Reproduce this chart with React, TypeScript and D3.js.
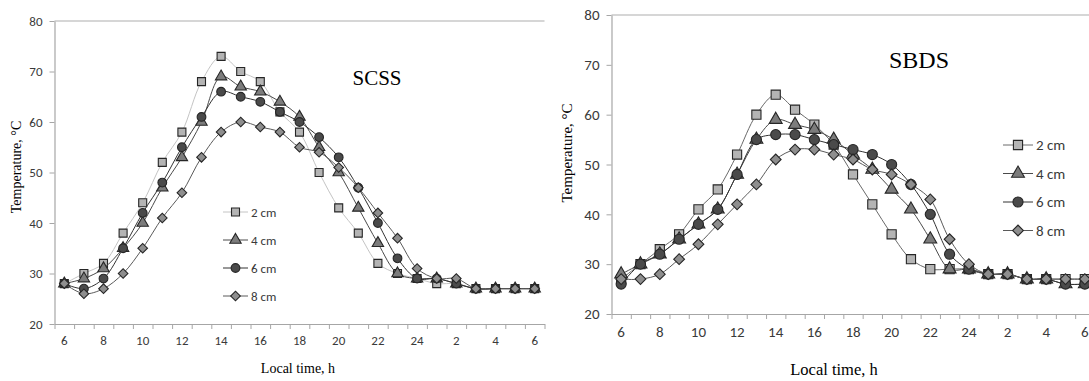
import { useEffect, useRef } from "react";
import * as d3 from "d3";

const W = 1089;
const H = 381;

// local time categories, 6 h to 6 h next day
const hours = ["6", "7", "8", "9", "10", "11", "12", "13", "14", "15", "16", "17", "18", "19", "20", "21", "22", "23", "24", "1", "2", "3", "4", "5", "6"];
const depths = ["2 cm", "4 cm", "6 cm", "8 cm"];
const yTicks = [20, 30, 40, 50, 60, 70, 80];

// SCSS, temperature in deg C
const scss2 = [28, 30, 32, 38, 44, 52, 58, 68, 73, 70, 68, 62, 58, 50, 43, 38, 32, 30, 29, 28, 28, 27, 27, 27, 27];
const scss4 = [28, 29, 31, 35, 40, 47, 53, 60, 69, 67, 66, 64, 61, 55, 50, 43, 36, 30, 29, 29, 28, 27, 27, 27, 27];
const scss6 = [28, 27, 29, 35, 42, 48, 55, 61, 66, 65, 64, 62, 60, 57, 53, 47, 40, 33, 29, 29, 28, 27, 27, 27, 27];
const scss8 = [28, 26, 27, 30, 35, 41, 46, 53, 58, 60, 59, 58, 55, 54, 51, 47, 42, 37, 31, 29, 29, 27, 27, 27, 27];

// SBDS, temperature in deg C
const sbds2 = [27, 30, 33, 36, 41, 45, 52, 60, 64, 61, 58, 54, 48, 42, 36, 31, 29, 29, 29, 28, 28, 27, 27, 27, 27];
const sbds4 = [28, 30, 32, 35, 38, 41, 48, 55, 59, 58, 57, 55, 52, 49, 45, 41, 35, 29, 29, 28, 28, 27, 27, 26, 26];
const sbds6 = [26, 30, 32, 35, 38, 41, 48, 55, 56, 56, 55, 54, 53, 52, 50, 46, 40, 32, 29, 28, 28, 27, 27, 26, 26];
const sbds8 = [27, 27, 28, 31, 34, 38, 42, 46, 51, 53, 53, 52, 51, 49, 48, 46, 43, 35, 30, 28, 28, 27, 27, 27, 27];

const sans = "Carlito, Lato, 'Open Sans', sans-serif";
const serif = "'Liberation Serif', 'Times New Roman', serif";

const shapes = [d3.symbolSquare, d3.symbolTriangle, d3.symbolCircle, d3.symbolSquare];
const rotations = [0, 0, 0, 45];
const fills = ["#b4b4b4", "#7c7c7c", "#4a4a4a", "#8e8e8e"];

type Panel = {
  title: string;
  left: number;
  right: number;
  top: number;
  bottom: number;
  tickFont: number;
  titleFont: number;
  axisFont: number;
  yTitleFont: number;
  titleX: number;
  titleY: number;
  yTitleX: number;
  yTitleY: number;
  xTitleX: number;
  xTitleY: number;
  legendX: number;
  legendY: number;
  legendGap: number;
  legendLine: number;
  sizes: number[];
  lineColors: string[];
};

const leftPanel: Panel = {
  title: "SCSS",
  left: 54.5,
  right: 544.5,
  top: 21,
  bottom: 324,
  tickFont: 13,
  titleFont: 21,
  axisFont: 14,
  yTitleFont: 14,
  titleX: 377,
  titleY: 85,
  yTitleX: 18,
  yTitleY: 167,
  xTitleX: 298,
  xTitleY: 373,
  legendX: 223,
  legendY: 212,
  legendGap: 28,
  legendLine: 25,
  sizes: [64, 56, 60, 46],
  lineColors: ["#c4c4c4", "#4a4a4a", "#333333", "#5a5a5a"],
};

const rightPanel: Panel = {
  title: "SBDS",
  left: 611.5,
  right: 1094.5,
  top: 15,
  bottom: 314,
  tickFont: 15,
  titleFont: 24,
  axisFont: 16.5,
  yTitleFont: 15,
  titleX: 919,
  titleY: 68,
  yTitleX: 569,
  yTitleY: 153,
  xTitleX: 834,
  xTitleY: 375,
  legendX: 1003,
  legendY: 145,
  legendGap: 28.5,
  legendLine: 30,
  sizes: [84, 72, 80, 58],
  lineColors: ["#6a6a6a", "#4a4a4a", "#333333", "#5a5a5a"],
};

function drawPanel(
  svg: d3.Selection<SVGSVGElement, unknown, null, undefined>,
  p: Panel,
  series: number[][]
) {
  const g = svg.append("g");
  const idx = hours.map((_, i) => i);
  const x = d3.scaleBand<number>().domain(idx).range([p.left, p.right]);
  const edge = d3.scaleLinear().domain([0, hours.length]).range([p.left, p.right]);
  const y = d3.scaleLinear().domain([20, 80]).range([p.bottom, p.top]);
  const cx = (i: number) => (x(i) ?? 0) + x.bandwidth() / 2;

  // top gridline
  g.append("line")
    .attr("x1", p.left)
    .attr("x2", p.right)
    .attr("y1", y(80))
    .attr("y2", y(80))
    .attr("stroke", "#c8c8c8")
    .attr("stroke-width", 1.6);

  // y-axis
  const yAxis = g
    .append("g")
    .attr("transform", `translate(${p.left},0)`)
    .call(d3.axisLeft(y).tickValues(yTicks).tickSize(5).tickSizeOuter(0).tickPadding(7));
  yAxis.select(".domain").attr("stroke", "#a6a6a6").attr("stroke-width", 1.2);
  yAxis.selectAll(".tick line").attr("stroke", "#a6a6a6");
  yAxis
    .selectAll(".tick text")
    .attr("font-family", sans)
    .attr("font-size", p.tickFont)
    .attr("fill", "#3a3a3a");

  // x-axis: tick marks between categories
  const xAxis = g
    .append("g")
    .attr("transform", `translate(0,${p.bottom})`)
    .call(
      d3
        .axisBottom(edge)
        .tickValues(d3.range(hours.length + 1))
        .tickSize(5)
        .tickSizeOuter(0)
        .tickFormat(() => "")
    );
  xAxis.select(".domain").attr("stroke", "#a6a6a6").attr("stroke-width", 1.2);
  xAxis.selectAll(".tick line").attr("stroke", "#a6a6a6");

  g.append("g")
    .selectAll("text")
    .data(idx.filter((i) => i % 2 === 0))
    .join("text")
    .attr("x", (i) => cx(i))
    .attr("y", p.bottom + 8 + p.tickFont)
    .attr("text-anchor", "middle")
    .attr("font-family", sans)
    .attr("font-size", p.tickFont)
    .attr("fill", "#3a3a3a")
    .text((i) => hours[i]);

  // titles
  g.append("text")
    .attr("x", p.titleX)
    .attr("y", p.titleY)
    .attr("text-anchor", "middle")
    .attr("font-family", serif)
    .attr("font-size", p.titleFont)
    .text(p.title);
  g.append("text")
    .attr("transform", `translate(${p.yTitleX},${p.yTitleY}) rotate(-90)`)
    .attr("text-anchor", "middle")
    .attr("dominant-baseline", "middle")
    .attr("font-family", serif)
    .attr("font-size", p.yTitleFont)
    .text("Temperature, °C");
  g.append("text")
    .attr("x", p.xTitleX)
    .attr("y", p.xTitleY)
    .attr("text-anchor", "middle")
    .attr("font-family", serif)
    .attr("font-size", p.axisFont)
    .text("Local time, h");

  const line = d3
    .line<number>()
    .x((_, i) => cx(i))
    .y((d) => y(d))
    .curve(d3.curveCatmullRom.alpha(0.5));

  series.forEach((values, s) => {
    const sym = d3.symbol().type(shapes[s]).size(p.sizes[s]);
    g.append("path")
      .datum(values)
      .attr("fill", "none")
      .attr("stroke", p.lineColors[s])
      .attr("stroke-width", 1)
      .attr("d", line);
    g.append("g")
      .selectAll("path")
      .data(values)
      .join("path")
      .attr("d", sym() ?? "")
      .attr("transform", (d, i) => `translate(${cx(i)},${y(d)}) rotate(${rotations[s]})`)
      .attr("fill", fills[s])
      .attr("stroke", "#262626")
      .attr("stroke-width", 1.1);
  });

  // legend
  depths.forEach((name, s) => {
    const ly = p.legendY + s * p.legendGap;
    const lg = g.append("g");
    lg.append("line")
      .attr("x1", p.legendX)
      .attr("x2", p.legendX + p.legendLine)
      .attr("y1", ly)
      .attr("y2", ly)
      .attr("stroke", p.lineColors[s])
      .attr("stroke-width", 1);
    lg.append("path")
      .attr("d", d3.symbol().type(shapes[s]).size(p.sizes[s])() ?? "")
      .attr("transform", `translate(${p.legendX + p.legendLine / 2},${ly}) rotate(${rotations[s]})`)
      .attr("fill", fills[s])
      .attr("stroke", "#262626")
      .attr("stroke-width", 1.1);
    lg.append("text")
      .attr("x", p.legendX + p.legendLine + 3)
      .attr("y", ly)
      .attr("dominant-baseline", "central")
      .attr("font-family", sans)
      .attr("font-size", p.tickFont)
      .attr("fill", "#3a3a3a")
      .text(name);
  });
}

const App = () => {
  const svgRef = useRef<SVGSVGElement>(null);

  useEffect(() => {
    document.body.style.margin = "0";
    const svg = d3.select(svgRef.current as SVGSVGElement);
    svg.selectAll("*").remove();
    drawPanel(svg, leftPanel, [scss2, scss4, scss6, scss8]);
    drawPanel(svg, rightPanel, [sbds2, sbds4, sbds6, sbds8]);
  }, []);

  return (
    <svg
      ref={svgRef}
      width={W}
      height={H}
      style={{ position: "absolute", left: 0, top: 0, background: "#fff" }}
    ></svg>
  );
};

export default App;
